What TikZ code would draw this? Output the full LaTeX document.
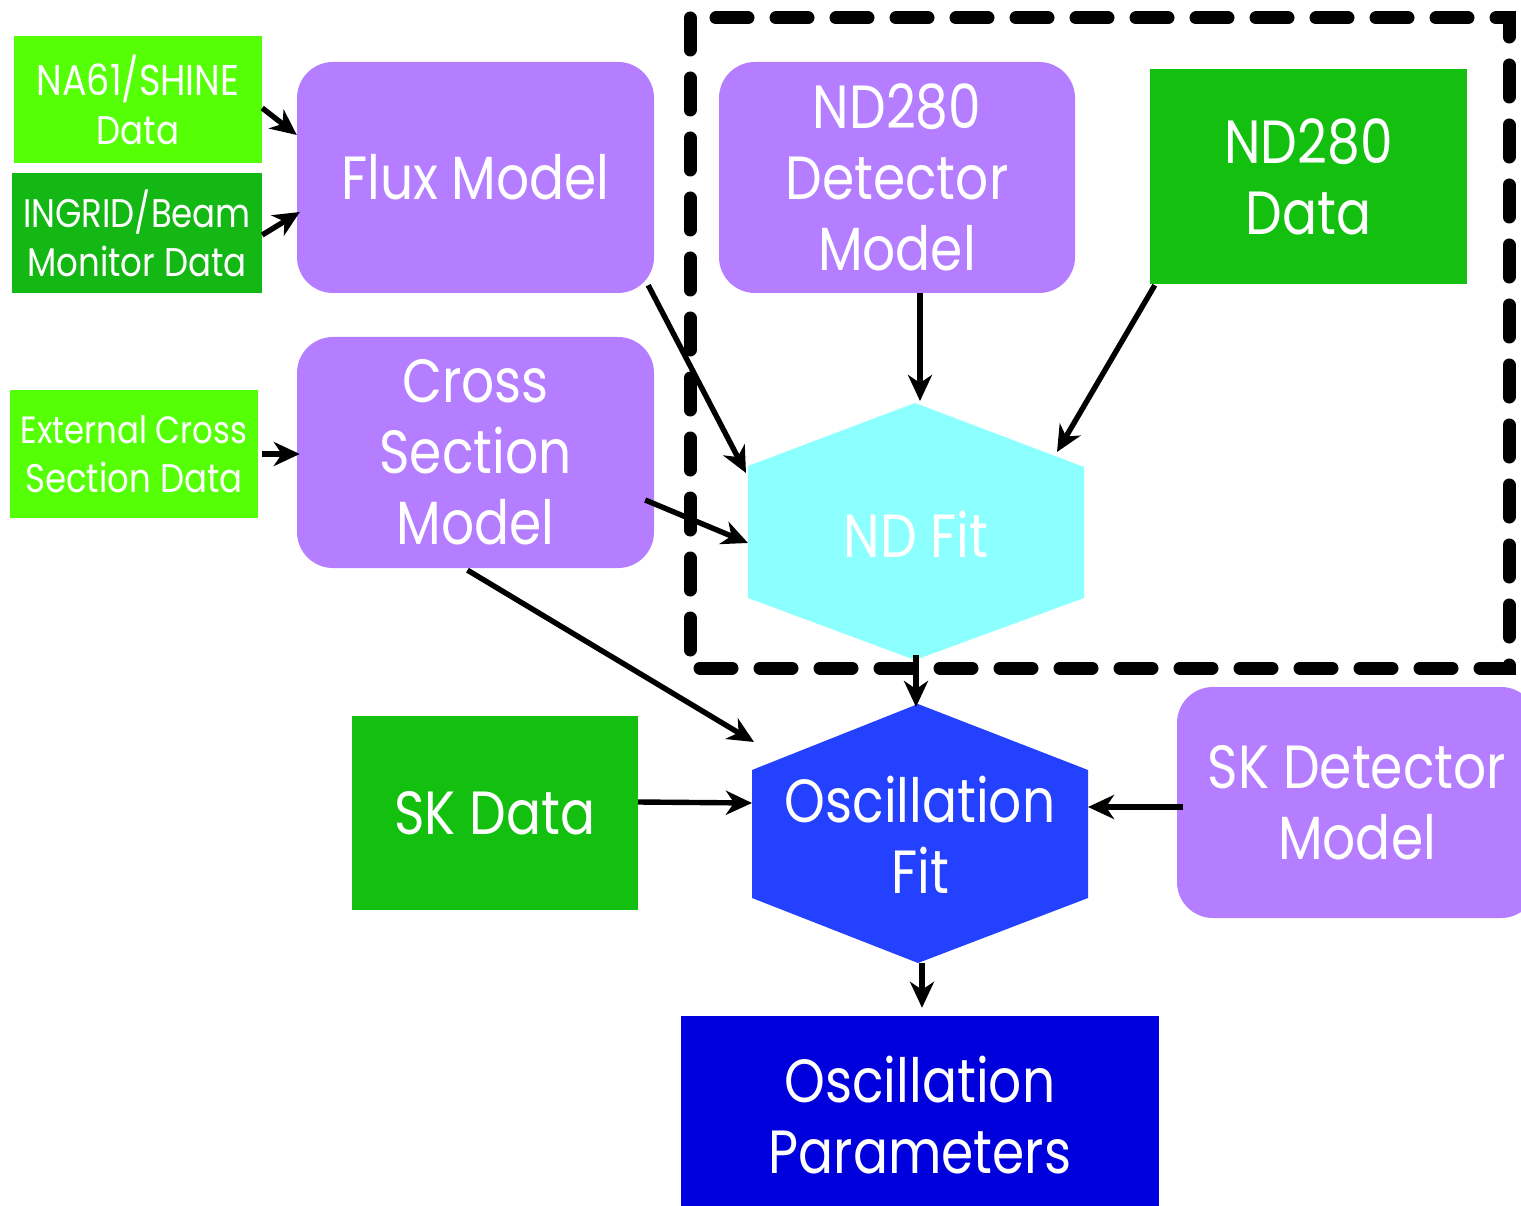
\documentclass[tikz,border=0pt]{standalone}
\usepackage{fontspec}
\setmainfont{Poppins}[FakeStretch=0.85]
\usetikzlibrary{arrows.meta,calc}
\definecolor{lgreen}{HTML}{55FF05}
\definecolor{dgreen}{HTML}{14B814}
\definecolor{mgreen}{HTML}{14C00F}
\definecolor{purp}{HTML}{B57DFF}
\definecolor{cyanfit}{HTML}{8CFFFF}
\definecolor{bluefit}{HTML}{2441FF}
\definecolor{dblue}{HTML}{0000DC}
\tikzset{
  base/.style={inner sep=0pt, text=white, align=center, anchor=center},
  smallbox/.style={base, font=\fontsize{40}{49}\selectfont},
  bigbox/.style={base, font=\fontsize{61}{71}\selectfont},
  modelbox/.style={bigbox, fill=purp, rounded corners=36pt},
  conn/.style={line width=5.4pt, -{Stealth[length=26pt,width=24pt,inset=8pt]}},
  dashbox/.style={line width=13pt, dash pattern=on 32pt off 28pt, line cap=round}
}
\begin{document}
\begin{tikzpicture}[x=1pt,y=-1pt]
\useasboundingbox (0,0) rectangle (1521,1206);
\clip (0,0) rectangle (1521,1206);

% input data boxes
\node[smallbox, fill=lgreen, minimum width=248pt, minimum height=127pt] (na61) at (138,99.5) {\fontsize{43}{49}\selectfont NA61/SHINE\\Data};
\node[smallbox, fill=dgreen, minimum width=250pt, minimum height=120pt] (ingrid) at (137,233) {INGRID/Beam\\Monitor Data};
\node[smallbox, fill=lgreen, minimum width=248pt, minimum height=128pt] (ext) at (134,454) {\fontsize{38}{49}\selectfont External Cross\\Section Data};

% model boxes
\node[modelbox, minimum width=357pt, minimum height=231pt] (flux) at (475.5,177.5) {Flux Model};
\node[modelbox, minimum width=357pt, minimum height=231pt] (cross) at (475.5,452.5) {Cross\\Section\\Model};
\node[modelbox, minimum width=356pt, minimum height=231pt] (nddet) at (897,177.5) {ND280\\Detector\\Model};
\node[bigbox, fill=mgreen, minimum width=317pt, minimum height=215pt] (nddata) at (1308.5,176.5) {ND280\\Data};
\node[bigbox, fill=mgreen, minimum width=286pt, minimum height=194pt] (skdata) at (495,813) {SK Data};
\node[modelbox, minimum width=360pt, minimum height=231pt] (skdet) at (1357,802.5) {SK Detector\\Model};
\node[bigbox, fill=dblue, minimum width=478pt, minimum height=198pt] (params) at (920,1115) {Oscillation\\Parameters};

% ND fit hexagon
\fill[cyanfit] (915,403) -- (1084,467) -- (1084,598) -- (915,660) -- (748,598) -- (748,466) -- cycle;
\node[bigbox] (ndfit) at (916,534) {ND Fit};
% oscillation fit hexagon
\fill[bluefit] (918,704) -- (1088,770) -- (1088,898) -- (918,963) -- (752,898) -- (752,770) -- cycle;
\node[bigbox] (oscfit) at (920,835) {Oscillation\\Fit};

% arrow end points on the hexagons
\coordinate (nd-fluxin) at (746,473);
\coordinate (nd-crossin) at (748,543);
\coordinate (nd-detin) at (920,401);
\coordinate (nd-datain) at (1057,452);
\coordinate (nd-out) at (916,655);
\coordinate (osc-ndin) at (916,707);
\coordinate (osc-crossin) at (754,742);
\coordinate (osc-skin) at (752,803);
\coordinate (osc-detin) at (1088,807);
\coordinate (osc-out) at (922,963);

% dashed frame
\draw[dashbox] (690,18) rectangle (1509,668);

% connectors
\draw[conn] ($(na61.east)+(0,8.5)$) -- ($(flux.west)+(0,-42.5)$);
\draw[conn] ($(ingrid.east)+(0,2)$) -- ($(flux.west)+(3,34.5)$);
\draw[conn] ($(ext.east)+(4,0)$) -- ($(cross.west)+(3,1.5)$);
\draw[conn] ($(flux.south east)+(-6,-8)$) -- (nd-fluxin);
\draw[conn] ($(cross.east)+(-9,47.5)$) -- (nd-crossin);
\draw[conn] ($(cross.south)+(-8,2)$) -- (osc-crossin);
\draw[conn] ($(nddet.south)+(23,0)$) -- (nd-detin);
\draw[conn] ($(nddata.south west)+(5,1)$) -- (nd-datain);
\draw[conn] (nd-out) -- (osc-ndin);
\draw[conn] ($(skdata.east)+(0,-11)$) -- (osc-skin);
\draw[conn] ($(skdet.west)+(6,4.5)$) -- (osc-detin);
\draw[conn] (osc-out) -- ($(params.north)+(2,-8)$);
\end{tikzpicture}
\end{document}
